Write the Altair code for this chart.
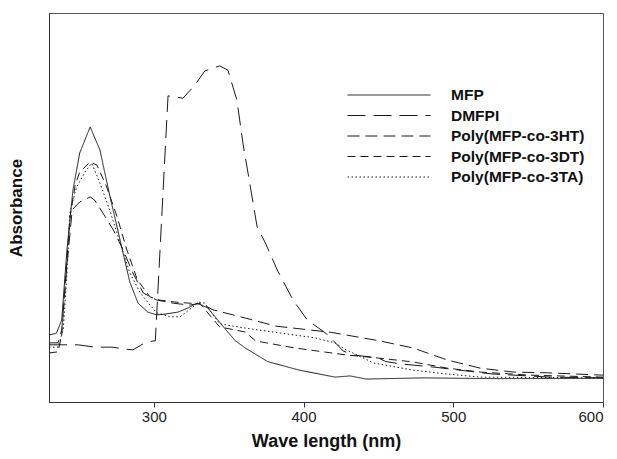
import altair as alt
import pandas as pd

series_names = ["MFP", "DMFPI", "Poly(MFP-co-3HT)", "Poly(MFP-co-3DT)", "Poly(MFP-co-3TA)"]

mfp_nm = [230, 235, 238.5, 242, 246, 250.5, 257.5, 264, 270.5, 277.5, 284, 289.5, 296, 302, 307.5,
          316, 323, 329, 336, 345.5, 354, 361, 376, 397, 421, 431, 442, 480, 530, 600]
mfp_abs = [0.172, 0.177, 0.211, 0.391, 0.545, 0.640, 0.707, 0.648, 0.532, 0.416, 0.308, 0.254, 0.231,
           0.224, 0.226, 0.231, 0.242, 0.254, 0.242, 0.198, 0.159, 0.139, 0.104, 0.082, 0.064, 0.067,
           0.059, 0.062, 0.060, 0.061]

dmfpi_nm = [230, 249.5, 260.5, 272, 281, 286, 294, 299.5, 301, 309.5, 319.5, 327.5, 334, 344, 349.5,
            355.5, 359.5, 364.5, 369, 374.5, 382.5, 393, 402.5, 415.5, 426.5, 433.5, 450, 455, 464.5,
            486.5, 526, 565, 600]
dmfpi_abs = [0.147, 0.147, 0.141, 0.141, 0.136, 0.134, 0.152, 0.157, 0.157, 0.787, 0.781, 0.815, 0.851,
             0.864, 0.853, 0.776, 0.666, 0.553, 0.450, 0.409, 0.339, 0.262, 0.211, 0.175, 0.131, 0.121,
             0.113, 0.104, 0.098, 0.090, 0.072, 0.064, 0.062]

p3ht_nm = [230, 236, 238.5, 242, 245.5, 250.5, 257.5, 260.5, 266, 273, 279.5, 286, 293, 302, 313, 324,
           331, 339.5, 361, 381.5, 418.5, 451, 473, 496, 518, 540, 563, 600]
p3ht_abs = [0.152, 0.152, 0.185, 0.352, 0.494, 0.514, 0.527, 0.519, 0.486, 0.442, 0.391, 0.332, 0.280,
            0.262, 0.254, 0.249, 0.254, 0.237, 0.216, 0.195, 0.179, 0.157, 0.139, 0.108, 0.087, 0.077,
            0.075, 0.069]

p3dt_nm = [230, 236, 238.5, 241.5, 244, 247.5, 250.5, 257.5, 262, 268.5, 275.5, 282, 289, 297.5, 304,
           314, 324, 331, 344, 361, 368, 394, 428.5, 450, 473, 496, 518, 551, 600]
p3dt_abs = [0.126, 0.129, 0.172, 0.339, 0.476, 0.558, 0.591, 0.617, 0.609, 0.553, 0.476, 0.391, 0.314,
            0.270, 0.262, 0.257, 0.254, 0.252, 0.193, 0.180, 0.157, 0.139, 0.121, 0.113, 0.103, 0.087,
            0.077, 0.069, 0.064]

p3ta_nm = [230, 236, 239.5, 242, 244, 246, 248.5, 254, 258.5, 264, 270.5, 277.5, 284, 291, 297.5, 302,
           311, 317.5, 326, 330, 334, 344, 361, 381.5, 407.5, 421, 428.5, 447, 473, 496, 518, 600]
p3ta_abs = [0.141, 0.141, 0.185, 0.332, 0.486, 0.519, 0.553, 0.591, 0.614, 0.563, 0.494, 0.409, 0.332,
            0.280, 0.249, 0.229, 0.219, 0.219, 0.244, 0.257, 0.254, 0.201, 0.190, 0.179, 0.165, 0.152,
            0.134, 0.100, 0.082, 0.072, 0.064, 0.062]

x_ticks = [300, 400, 500, 600]
dash_patterns = [[1, 0], [18, 8], [12, 6], [8, 5], [1.5, 2.5]]

frames = []
for name, xs, ys in zip(series_names,
                        [mfp_nm, dmfpi_nm, p3ht_nm, p3dt_nm, p3ta_nm],
                        [mfp_abs, dmfpi_abs, p3ht_abs, p3dt_abs, p3ta_abs]):
    frames.append(pd.DataFrame({"series": name, "nm": xs, "absorbance": ys, "order": range(len(xs))}))
df = pd.concat(frames, ignore_index=True)

FONT = "Liberation Sans"

chart = alt.Chart(df).mark_line(color="#1a1a1a", strokeWidth=1).encode(
    x=alt.X("nm:Q", scale=alt.Scale(domain=[230, 600], nice=False, zero=False),
            axis=alt.Axis(values=x_ticks, title="Wave length (nm)", grid=False, tickSize=5,
                          labelPadding=2, labelFontSize=15, titleFontSize=18, titlePadding=8)),
    y=alt.Y("absorbance:Q", scale=alt.Scale(domain=[0, 1], nice=False),
            axis=alt.Axis(labels=False, ticks=False, grid=False, title="Absorbance",
                          titleFontSize=17, titlePadding=24)),
    strokeDash=alt.StrokeDash("series:N",
                              scale=alt.Scale(domain=series_names, range=dash_patterns),
                              legend=alt.Legend(title=None, orient="none", legendX=298, legendY=74,
                                                symbolType="stroke", symbolSize=83 * 83,
                                                symbolStrokeColor="#1a1a1a", symbolStrokeWidth=1,
                                                clipHeight=16, rowPadding=3.5, labelOffset=20,
                                                labelFontSize=15.5, labelFontWeight="bold",
                                                labelColor="#111", labelFont=FONT, padding=0)),
    order="order:Q",
    detail="series:N",
).properties(
    width=554, height=389,
    padding={"left": 41, "top": 5, "right": 6, "bottom": 49},
    autosize=alt.AutoSizeParams(type="none"),
).configure_view(
    stroke="#555", strokeWidth=1
).configure_axis(
    labelFont=FONT, titleFont=FONT, labelColor="#222", titleColor="#111",
    titleFontWeight="bold", domainColor="#333", tickColor="#333",
)

chart.save("out.html", embed_options={"renderer": "svg", "actions": False})
